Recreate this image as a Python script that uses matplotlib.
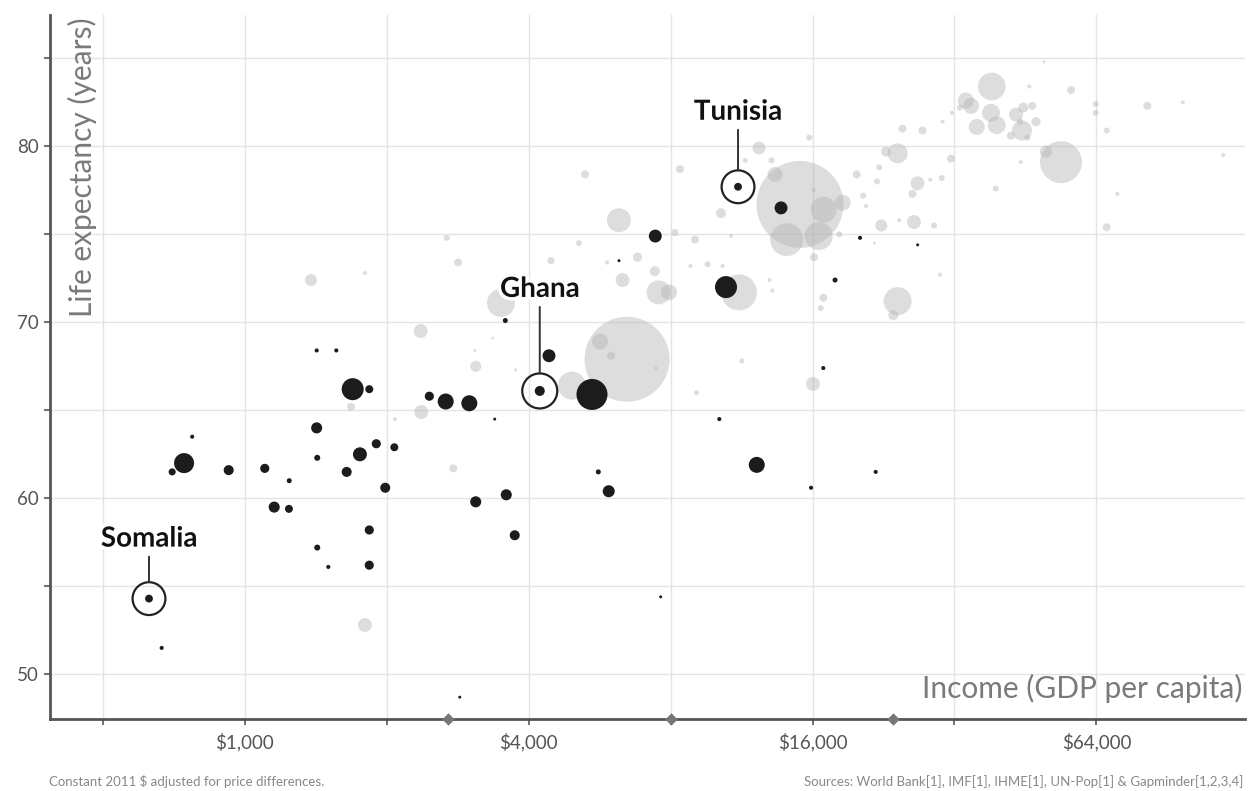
import numpy as np
import matplotlib
matplotlib.use("Agg")
import matplotlib.pyplot as plt
import matplotlib.patheffects as pe

plt.rcParams['font.family'] = ['Lato', 'DejaVu Sans']

# Highlighted African countries
label_names = ["Somalia", "Ghana", "Tunisia"]
label_income = [626, 4222, 11120]
label_life = [54.3, 66.1, 77.7]
label_pop = [11, 18, 11]
label_lift = [42, 84, 57]   # length of leader line (px)

# Other African countries (black bubbles)
africa_income = [666, 743, 701, 773, 924, 1102, 1242, 1154, 1240, 1420, 1424, 1644,
                 1754, 1900, 2075, 1985, 1836, 1424, 1503, 1836, 1693, 1836, 1420, 1563,
                 2462, 2667, 2993, 4417, 5449, 7423, 3568, 6217, 3388, 3088, 3585, 3736,
                 5620, 5913, 13720, 10486, 17861, 16866, 10149, 12185, 15886, 21784,
                 7621, 2856, 20180, 26740]
africa_life = [51.5, 62.0, 61.5, 63.5, 61.6, 61.7, 61.0, 59.5, 59.4, 64.0, 62.3, 61.5,
               62.5, 63.1, 62.9, 60.6, 58.2, 57.2, 56.1, 56.2, 66.2, 66.2, 68.4, 68.4,
               65.8, 65.5, 65.4, 68.1, 65.9, 74.9, 70.1, 73.5, 64.5, 59.8, 60.2, 57.9,
               61.5, 60.4, 76.5, 72.0, 72.4, 67.4, 64.5, 61.9, 60.6, 61.5,
               54.4, 48.7, 74.8, 74.4]
africa_pop = [3, 72, 9, 3, 18, 15, 4.5, 22, 11.5, 22, 6.5, 18,
              35, 15, 11.5, 18, 15, 6.5, 3, 15, 87, 11.5, 3, 3,
              15, 46, 46, 30, 173, 30, 4.5, 1.6, 1.6, 22, 22, 18,
              4.5, 26, 30, 87, 4.5, 3, 3, 46, 3, 3,
              1.6, 1.6, 3, 1.6]

# Rest of the world (grey bubbles)
world_income = [1679, 1798, 2082, 1381, 1798, 3494, 2360, 3088, 2367, 2768, 3073, 3753,
                3354, 2832, 2680, 4460, 5113, 6467, 4942, 5666, 5980, 6325, 7542, 7938,
                7407, 6807, 6217, 8174, 9013, 8816, 5864, 9080, 7448, 5267, 8376, 10233,
                12322, 13324, 15750, 11521, 13096, 11174, 9580, 10309, 10747, 12968, 13149,
                11323, 16866, 16655, 16040, 16119, 15051, 16899, 14104, 16494, 18541, 18238,
                16094, 24250, 23740, 21643, 22390, 24438, 26264, 28965, 20779, 20478, 19852,
                21925, 22170, 24250, 22911, 26720, 26078, 24834, 27383, 30193, 31626, 31466,
                30075, 28444, 29835, 38400, 33826, 34704, 32880, 38260, 39340, 35687, 43230,
                44800, 46800, 47670, 44510, 42140, 45700, 44080, 46140, 49560, 56570, 63820,
                63820, 67330, 82100, 97600, 119000, 53860, 49990, 44230, 39150, 70920, 67330]
world_life = [65.2, 52.8, 64.5, 72.4, 72.8, 71.1, 69.5, 67.5, 64.9, 61.7, 68.4, 67.3,
              69.1, 73.4, 74.8, 73.5, 74.5, 67.9, 66.4, 68.9, 68.1, 72.4, 71.7, 71.7,
              72.9, 73.7, 75.8, 75.1, 74.7, 73.2, 73.4, 66.0, 67.4, 78.4, 78.7, 76.2,
              79.9, 78.4, 80.5, 79.2, 79.2, 71.7, 73.3, 73.2, 74.9, 72.4, 71.8,
              67.8, 71.4, 70.8, 66.5, 73.7, 76.7, 76.4, 74.7, 74.9, 76.8, 75.0,
              77.5, 71.2, 70.4, 74.5, 75.5, 75.8, 75.7, 75.5, 76.6, 77.2, 78.4,
              78.0, 78.8, 79.6, 79.7, 77.9, 77.3, 81.0, 80.9, 81.4, 81.9, 79.3,
              78.2, 78.1, 72.7, 83.4, 82.6, 82.3, 82.2, 81.9, 81.2, 81.1, 81.8,
              82.2, 82.3, 81.4, 80.9, 80.6, 80.5, 81.4, 83.4, 84.8, 83.2, 82.4,
              81.9, 80.9, 82.3, 82.5, 79.5, 79.1, 79.7, 79.1, 77.6, 77.3, 75.4]
world_pop = [11.5, 35, 3, 26, 3, 141, 35, 22, 35, 11.5, 1.6, 1.6,
             1.6, 11.5, 6.5, 9, 6.5, 1297, 141, 46, 11.5, 35, 103, 46,
             18, 15, 103, 9, 11.5, 3, 3, 4.5, 1.6, 11.5, 11.5, 18,
             30, 40, 6.5, 4.5, 6.5, 233, 6.5, 3, 3, 3, 3,
             4.5, 11.5, 6.5, 35, 11.5, 1359, 121, 196, 141, 46, 6.5,
             3, 141, 18, 1.6, 26, 3, 35, 6.5, 3, 6.5, 11.5,
             6.5, 6.5, 72, 18, 35, 11.5, 11.5, 11.5, 3, 3, 11.5,
             6.5, 3, 3, 137, 46, 46, 6.5, 58, 58, 46, 35,
             18, 11.5, 15, 72, 11.5, 6.5, 6.5, 3, 1.6, 11.5, 6.5,
             6.5, 6.5, 11.5, 3, 3, 317, 26, 3, 6.5, 3, 11.5]

# income-level markers on the x axis
level_income = [2700, 8000, 23700]

x_ticks = [500, 1000, 2000, 4000, 8000, 16000, 32000, 64000]
x_labels = ["", "$1,000", "", "$4,000", "", "$16,000", "", "$64,000"]
y_ticks = [50, 55, 60, 65, 70, 75, 80, 85]
y_labels = ["50", "", "60", "", "70", "", "80", ""]

PX = 0.72  # points per pixel at dpi 100


def size(pop):
    r_px = 1.18 * np.sqrt(np.asarray(pop, dtype=float))
    return (2 * r_px * PX) ** 2


fig = plt.figure(figsize=(12.54, 7.91), dpi=100)
ax = fig.add_axes([50 / 1254, 72 / 791, 1195 / 1254, 704 / 791])
ax.set_xscale('log', base=2)
ax.set_xlim(386, 132300)
ax.set_ylim(47.46, 87.46)

ax.set_xticks(x_ticks)
ax.set_xticklabels(x_labels)
ax.minorticks_off()
ax.set_yticks(y_ticks)
ax.set_yticklabels(y_labels)
ax.grid(True, color='#e4e4e4', lw=1)
ax.set_axisbelow(True)

for s in ['top', 'right']:
    ax.spines[s].set_visible(False)
for s in ['left', 'bottom']:
    ax.spines[s].set_color('#555555')
    ax.spines[s].set_linewidth(2)
ax.tick_params(axis='both', colors='#555555', labelsize=13.5, length=4, width=1.2)
ax.tick_params(axis='x', pad=6)
ax.tick_params(axis='y', pad=4)

# grey bubbles
order = np.argsort(world_pop)[::-1]
ax.scatter(np.array(world_income)[order], np.array(world_life)[order],
           s=size(np.array(world_pop)[order]), color='#b0b0b0', alpha=0.42,
           linewidths=0, zorder=2)

# black bubbles
ax.scatter(africa_income, africa_life, s=size(africa_pop), color='#1c1c1c',
           linewidths=0, zorder=3)
ax.scatter(label_income, label_life, s=size(label_pop), color='#1c1c1c',
           linewidths=0, zorder=3)

# labelled countries: ring, leader line, name
halo = [pe.withStroke(linewidth=5, foreground='white')]
for name, xi, yi, p, lift in zip(label_names, label_income, label_life, label_pop, label_lift):
    ring_px = 1.18 * np.sqrt(p) + 12.5
    ax.scatter([xi], [yi], s=(2 * ring_px * PX) ** 2, facecolors='none',
               edgecolors='#222222', linewidths=1.6, zorder=4)
    ax.annotate('', xy=(xi, yi), xytext=(0, lift * PX), textcoords='offset points',
                arrowprops=dict(arrowstyle='-', color='#333333', lw=1.4,
                                shrinkA=0, shrinkB=ring_px * PX), zorder=4)
    ax.annotate(name, xy=(xi, yi), xytext=(0, (lift + 10) * PX), textcoords='offset points',
                ha='center', va='baseline', fontsize=20, fontweight='bold', color='#111111',
                zorder=5, path_effects=halo)

# level markers on the axis
ax.scatter(level_income, [47.46] * len(level_income), marker='D', s=40, color='#777777',
           clip_on=False, zorder=6, linewidths=0)

# axis titles inside the plot
ax.text(0.998, 0.03, "Income (GDP per capita)", transform=ax.transAxes, ha='right',
        va='baseline', fontsize=21.5, color='#7a7a7a')
ax.text(0.027, 0.997, "Life expectancy (years)", transform=ax.transAxes, rotation=90,
        ha='center', va='top', fontsize=21.5, color='#7a7a7a')

fig.text(49 / 1254, 1 - 782 / 791, "Constant 2011 $ adjusted for price differences.",
         ha='left', va='center', fontsize=9.5, color='#888888')
fig.text(1243 / 1254, 1 - 782 / 791,
         "Sources: World Bank[1], IMF[1], IHME[1], UN-Pop[1] & Gapminder[1,2,3,4]",
         ha='right', va='center', fontsize=9.5, color='#888888')

fig.savefig("out.png", dpi=100)
